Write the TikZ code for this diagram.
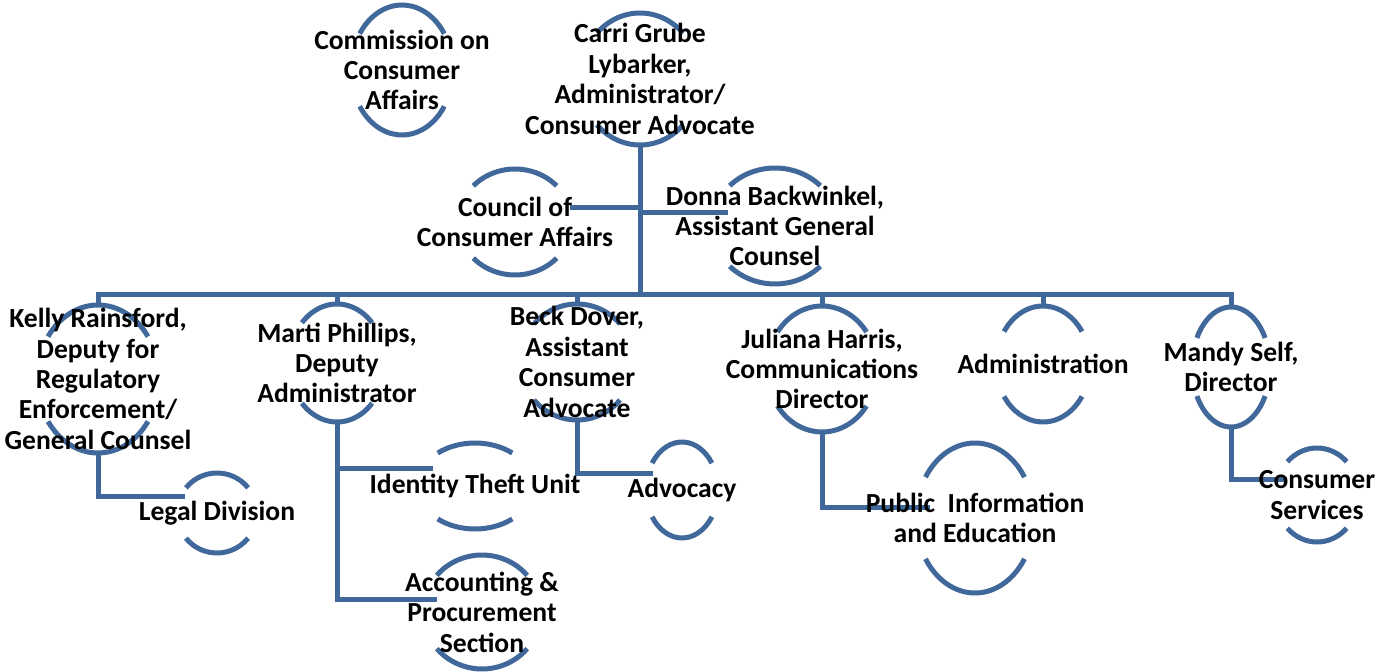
\documentclass[tikz,border=0pt]{standalone}
\usepackage{fontspec}
\setmainfont{Carlito}
\usetikzlibrary{calc,backgrounds}
\definecolor{orgblue}{RGB}{65,104,155}

\begin{document}
\begin{tikzpicture}[x=0.5pt,y=-0.5pt,
    lbl/.style={align=center,inner sep=0pt,font=\fontsize{13.8}{15.2}\selectfont\bfseries},
    ring/.style={draw=orgblue,line width=2.5pt},
    link/.style={draw=orgblue,line width=2.5pt}]
    \useasboundingbox (0,0) rectangle (1380,672);
    \node[lbl] (commission) at (402,70) {Commission on\\Consumer\\Affairs};
    \node[lbl] (carri) at (640,79) {Carri Grube\\Lybarker,\\Administrator/\\Consumer Advocate};
    \node[lbl] (council) at (515,222) {Council of\\Consumer Affairs};
    \node[lbl] (donna) at (775,226) {Donna Backwinkel,\\Assistant General\\Counsel};
    \node[lbl] (kelly) at (98,379) {Kelly Rainsford,\\Deputy for\\Regulatory\\Enforcement/\\General Counsel};
    \node[lbl] (marti) at (337,363) {Marti Phillips,\\Deputy\\Administrator};
    \node[lbl] (beck) at (577,362) {Beck Dover,\\Assistant\\Consumer\\Advocate};
    \node[lbl] (juliana) at (822,369) {Juliana Harris,\\Communications\\Director};
    \node[lbl] (admin) at (1043,364) {Administration};
    \node[lbl] (mandy) at (1231,367) {Mandy Self,\\Director};
    \node[lbl] (legal) at (217,513) {Legal Division};
    \node[lbl] (identity) at (475,486) {Identity Theft Unit};
    \node[lbl] (accounting) at (482,612) {Accounting \&\\Procurement\\Section};
    \node[lbl] (advocacy) at (682,490) {Advocacy};
    \node[lbl] (public) at (975,518) {Public\ \ Information\\and Education};
    \node[lbl] (consumer) at (1317,495) {Consumer\\Services};

    \coordinate (bus) at (0,295);
    \coordinate (councilin) at ($(council)+(55,-14)$);
    \coordinate (donnain) at ($(donna)+(-47,-13)$);
    \coordinate (legalin) at ($(legal)+(-32,-16)$);
    \coordinate (identityin) at ($(identity)+(-42,-17)$);
    \coordinate (accountingin) at ($(accounting)+(-45,-12)$);
    \coordinate (advocacyin) at ($(advocacy)+(-29,-16)$);
    \coordinate (publicin) at ($(public)+(-45,-10)$);
    \coordinate (consumerin) at ($(consumer)+(-30,-15)$);

    \begin{scope}[on background layer]
    \foreach \n/\rx/\ry/\a in {commission/51/65/34, carri/60/66/44, council/57/53/43,
        donna/63/58/44, kelly/61/74/35, marti/48/59/43, beck/57/58/41, juliana/55/63/36,
        admin/47/58/34, mandy/39/60/29, legal/40/40/39, identity/58/43/50,
        accounting/59/57/40, advocacy/36/48/34, public/59/75/33, consumer/42/47/45}
    {
        \draw[ring] ([shift={({\rx*cos(\a)},{\ry*sin(\a)})}]\n.center) arc[start angle=\a, end angle=180-\a, x radius=\rx, y radius=\ry];
        \draw[ring] ([shift={({-\rx*cos(\a)},{-\ry*sin(\a)})}]\n.center) arc[start angle=180+\a, end angle=360-\a, x radius=\rx, y radius=\ry];
    }
    \draw[link] ($(carri)+(0,66)$) -- (carri |- bus);
    \draw[link] (carri |- councilin) -- (councilin);
    \draw[link] (carri |- donnain) -- (donnain);
    \draw[link] ($(kelly)+(0,-74)$) -- (kelly |- bus) -- (mandy |- bus) -- ($(mandy)+(0,-60)$);
    \foreach \n/\ry in {marti/59, beck/58, juliana/63, admin/58}
        \draw[link] (\n |- bus) -- ($(\n)+(0,-\ry)$);
    \draw[link] ($(kelly)+(0,74)$) |- (legalin);
    \draw[link] ($(marti)+(0,59)$) |- (accountingin);
    \draw[link] (marti |- identityin) -- (identityin);
    \draw[link] ($(beck)+(0,58)$) |- (advocacyin);
    \draw[link] ($(juliana)+(0,63)$) |- (publicin);
    \draw[link] ($(mandy)+(0,60)$) |- (consumerin);
    \end{scope}
\end{tikzpicture}
\end{document}
